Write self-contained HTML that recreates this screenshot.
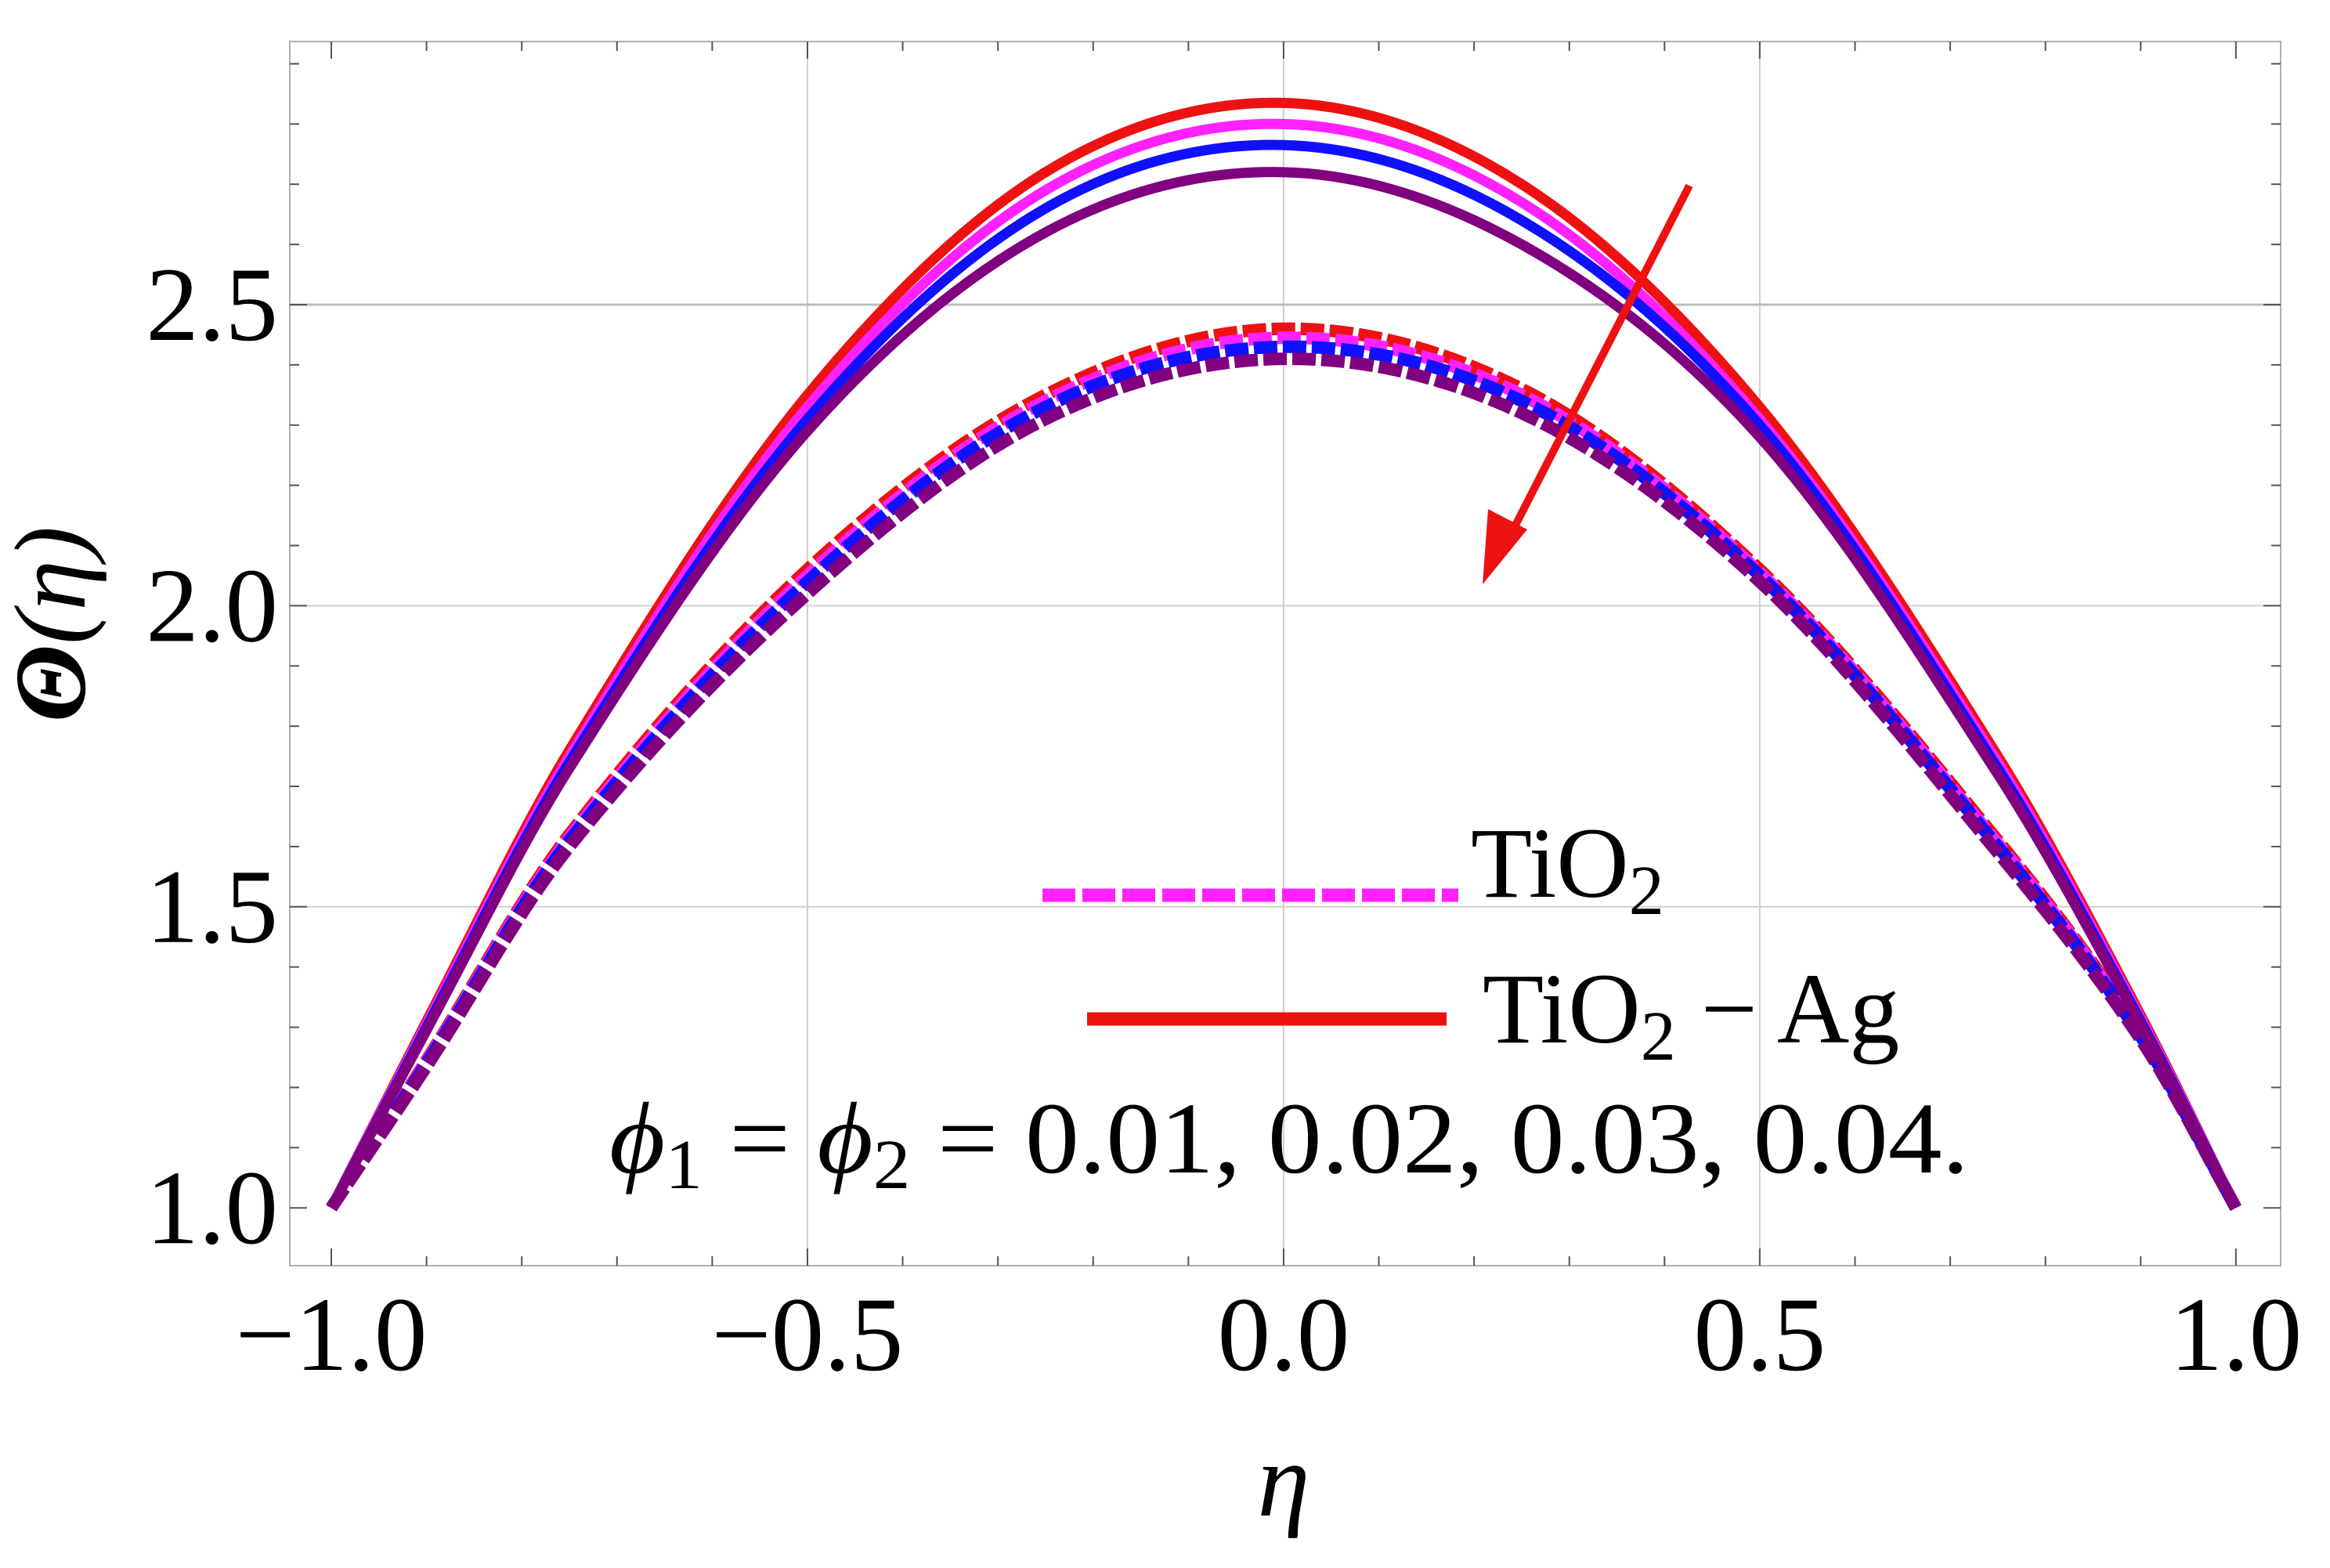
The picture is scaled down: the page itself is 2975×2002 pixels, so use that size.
<!DOCTYPE html>
<html><head><meta charset="utf-8"><style>
html,body{margin:0;padding:0;background:#fff;}
svg{display:block;}
text{font-family:"Liberation Serif",serif;fill:#000;}
</style></head><body>
<svg id="chart" width="2975" height="2002" viewBox="0 0 2975 2002" xmlns="http://www.w3.org/2000/svg">
<g id="grid"></g>
<g id="frame"></g>
<g id="series"></g>
<g id="ticks"></g>
<g id="labels"></g>
<text transform="translate(108,797) rotate(-90)" text-anchor="middle" font-size="130" font-style="italic"><tspan font-weight="bold">Θ</tspan>(η)</text>
<text x="1639" y="1935" text-anchor="middle" font-size="135" font-style="italic">η</text>
<g>
  <line x1="1331" y1="1143" x2="1862" y2="1143" stroke="#ff22ff" stroke-width="17" stroke-dasharray="42 9"/>
  <text x="1878" y="1145" font-size="128">TiO<tspan font-size="90" dy="22">2</tspan></text>
  <line x1="1388" y1="1301" x2="1847" y2="1301" stroke="#ee1111" stroke-width="17"/>
  <text x="1893" y="1331" font-size="128">TiO<tspan font-size="90" dy="22">2</tspan><tspan dy="-22"> − Ag</tspan></text>
</g>
<text x="778" y="1497" font-size="130" textLength="1736" lengthAdjust="spacingAndGlyphs"><tspan font-style="italic">ϕ</tspan><tspan font-size="90" dy="20">1</tspan><tspan dy="-20"> = </tspan><tspan font-style="italic">ϕ</tspan><tspan font-size="90" dy="20">2</tspan><tspan dy="-20"> = 0.01, 0.02, 0.03, 0.04.</tspan></text>
<g>
  <line x1="2157" y1="237" x2="1925" y2="690" stroke="#ee1111" stroke-width="10"/>
  <polygon points="1893,746 1900,650 1950,676" fill="#ee1111"/>
</g>
</svg>
<script>
const etaGrid = [-1,-0.9,-0.75,-0.5,-0.25,0,0.25,0.5,0.75,0.9,1];
const hybrid1 = [1,1.31,1.76,2.35,2.72,2.835,2.70,2.33,1.75,1.32,1];
const hybrid2 = [1,1.305,1.75,2.33,2.69,2.80,2.67,2.31,1.74,1.315,1];
const hybrid3 = [1,1.30,1.74,2.31,2.66,2.765,2.64,2.30,1.73,1.31,1];
const hybrid4 = [1,1.295,1.73,2.29,2.62,2.72,2.60,2.28,1.72,1.305,1];
const mono1 = [1,1.245,1.62,2.06,2.35,2.46,2.36,2.06,1.61,1.29,1];
const mono2 = [1,1.242,1.615,2.05,2.34,2.445,2.35,2.055,1.605,1.288,1];
const mono3 = [1,1.24,1.61,2.04,2.33,2.43,2.34,2.05,1.60,1.285,1];
const mono4 = [1,1.235,1.60,2.02,2.31,2.41,2.32,2.04,1.59,1.28,1];
const xTicks = [-1,-0.5,0,0.5,1];
const xTickLabels = ["−1.0","−0.5","0.0","0.5","1.0"];
const yTicks = [1,1.5,2,2.5];
const yTickLabels = ["1.0","1.5","2.0","2.5"];

const X0=370,X1=2912,Y0=53,Y1=1616;
const xmin=-1.0436,xmax=1.047,ymin=0.904,ymax=2.937;
function sx(v){return X0+(v-xmin)/(xmax-xmin)*(X1-X0);}
function sy(v){return Y1-(v-ymin)/(ymax-ymin)*(Y1-Y0);}
const NS="http://www.w3.org/2000/svg";
function mk(tag,parent,attrs){const e=document.createElementNS(NS,tag);for(const k in attrs)e.setAttribute(k,attrs[k]);parent.appendChild(e);return e;}

const grid=document.getElementById('grid');
[-0.5,0,0.5].forEach(v=>{const l=mk('line',grid,{x1:sx(v),x2:sx(v),y1:Y0,y2:Y1,stroke:'#cfcfcf','stroke-width':2});

});
[1.5,2,2.5].forEach(v=>{const l=mk('line',grid,{x1:X0,x2:X1,y1:sy(v),y2:sy(v),stroke:v===2.5?'#bcbcbc':'#cfcfcf','stroke-width':v===2.5?3:2});

});

const frame=document.getElementById('frame');
const fr=mk('rect',frame,{x:X0,y:Y0,width:X1-X0,height:Y1-Y0,fill:'none',stroke:'#b0b0b0','stroke-width':2});



const ticks=document.getElementById('ticks');
for(let i=-10;i<=10;i++){const v=i/10;const major=(i%5===0);const L=major?22:12;
 const a=mk('line',ticks,{x1:sx(v),x2:sx(v),y1:Y1,y2:Y1-L,stroke:'#555','stroke-width':2});
 
 
 const b=mk('line',ticks,{x1:sx(v),x2:sx(v),y1:Y0,y2:Y0+L,stroke:'#555','stroke-width':2});
 
 }
for(let i=10;i<=29;i++){const v=i/10;const major=(i%5===0);const L=major?22:12;
 const a=mk('line',ticks,{x1:X0,x2:X0+L,y1:sy(v),y2:sy(v),stroke:'#555','stroke-width':2});
 
 
 const b=mk('line',ticks,{x1:X1,x2:X1-L,y1:sy(v),y2:sy(v),stroke:'#555','stroke-width':2});
 
 }

const labels=document.getElementById('labels');
xTicks.forEach((v,i)=>{const t=mk('text',labels,{x:sx(v),y:1749,'text-anchor':'middle','font-size':135});t.textContent=xTickLabels[i];

});
yTicks.forEach((v,i)=>{const t=mk('text',labels,{x:355,y:sy(v)+45,'text-anchor':'end','font-size':135});t.textContent=yTickLabels[i];

});

function pathFor(ys){const p=etaGrid.map((e,i)=>[sx(e),sy(ys[i])]);let d=`M${p[0][0]},${p[0][1]}`;
 for(let i=0;i<p.length-1;i++){const p0=p[Math.max(0,i-1)],p1=p[i],p2=p[i+1],p3=p[Math.min(p.length-1,i+2)];
  const h=p2[0]-p1[0];
  const m1=(p2[1]-p0[1])/(p2[0]-p0[0]||1), m2=(p3[1]-p1[1])/(p3[0]-p1[0]||1);
  const c1=[p1[0]+h/3,p1[1]+m1*h/3],c2=[p2[0]-h/3,p2[1]-m2*h/3];
  d+=` C${c1[0]},${c1[1]} ${c2[0]},${c2[1]} ${p2[0]},${p2[1]}`;}
 return d;}
const series=document.getElementById('series');
const dashedSets=[[mono1,'#ee1111'],[mono2,'#ff22ff'],[mono3,'#1010ff'],[mono4,'#800080']];
const solidSets=[[hybrid1,'#ee1111'],[hybrid2,'#ff22ff'],[hybrid3,'#1010ff'],[hybrid4,'#800080']];
dashedSets.forEach(([ys,c],i)=>{const e=mk('path',series,{d:pathFor(ys),fill:'none',stroke:c,'stroke-width':16,'stroke-dasharray':'30 7'});

});
solidSets.forEach(([ys,c],i)=>{const e=mk('path',series,{d:pathFor(ys),fill:'none',stroke:c,'stroke-width':13});

});
</script>
</body></html>
